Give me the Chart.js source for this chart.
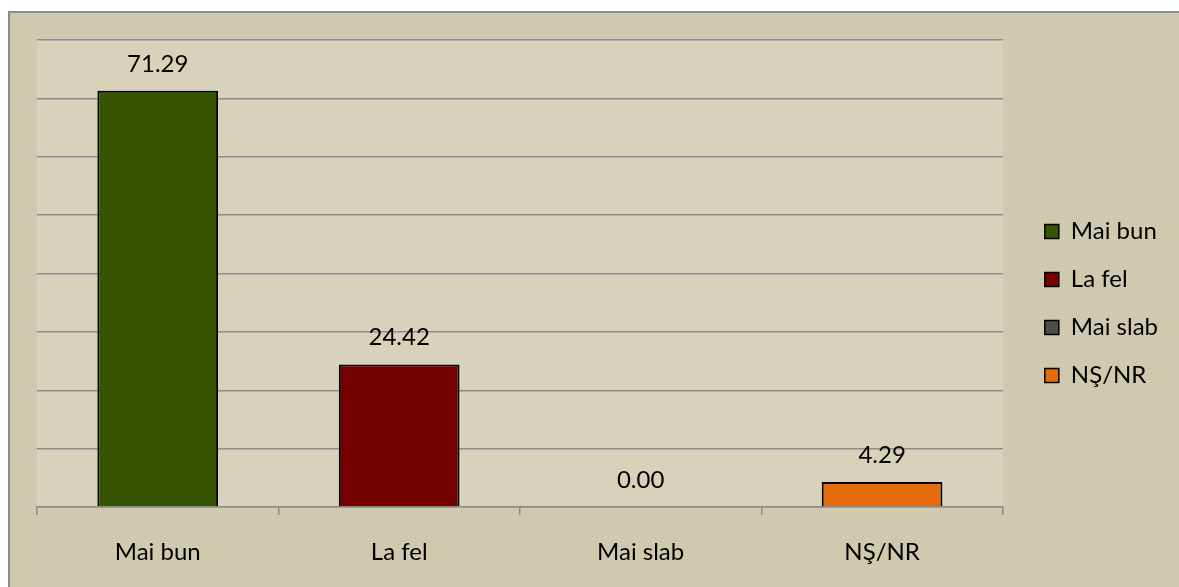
<!DOCTYPE html>
<html>
<head>
<meta charset="utf-8">
<script src="https://cdn.jsdelivr.net/npm/chart.js@4"></script>
<style>
  html, body { margin: 0; padding: 0; background: #ffffff; }
  #wrap {
    position: absolute; left: 8px; top: 11px;
    width: 1169px; height: 574px;
    border-left: 2px solid #8c8c8c; border-top: 2px solid #8c8c8c;
    background: #cfcaad;
  }
</style>
</head>
<body>
<div id="wrap"><canvas id="c" width="1169" height="574"></canvas></div>
<script>
// date grafic
const categorii = ["Mai bun", "La fel", "Mai slab", "NŞ/NR"];
const valori = [71.29, 24.42, 0.00, 4.29];
const culori = ["#375500", "#740000", "#4d4d4d", "#e46c0a"];
const axaY = { min: 0, max: 80, pas: 10 };

const FONT = "Lato, 'DejaVu Sans', sans-serif";

// fundal zona grafic
const fundalZona = {
  id: "fundalZona",
  beforeDraw(chart) {
    const a = chart.chartArea;
    const ctx = chart.ctx;
    ctx.save();
    ctx.fillStyle = "#d7d2b9";
    ctx.fillRect(a.left, a.top, a.right - a.left, a.bottom - a.top);
    ctx.restore();
  }
};

// etichete valori deasupra barelor
const etichete = {
  id: "etichete",
  afterDatasetsDraw(chart) {
    const ctx = chart.ctx;
    const meta = chart.getDatasetMeta(0);
    ctx.save();
    ctx.font = "24px " + FONT;
    ctx.fillStyle = "#000";
    ctx.textAlign = "center";
    ctx.textBaseline = "middle";
    meta.data.forEach((bar, i) => {
      ctx.fillText(valori[i].toFixed(2), bar.x, bar.y - 27);
    });
    ctx.restore();
  }
};

new Chart(document.getElementById("c"), {
  type: "bar",
  data: {
    labels: categorii,
    datasets: [{
      data: valori,
      backgroundColor: culori,
      borderColor: "#000",
      borderWidth: 2,
      barPercentage: 0.5,
      categoryPercentage: 1
    }]
  },
  options: {
    responsive: false,
    animation: false,
    layout: { padding: { left: 27, top: 27, bottom: 20, right: 11 } },
    plugins: {
      tooltip: { enabled: false },
      legend: {
        position: "right",
        onClick: null,
        labels: {
          boxWidth: 14,
          boxHeight: 14,
          padding: 24,
          color: "#000",
          font: { family: FONT, size: 24 },
          generateLabels: () => categorii.map((c, i) => ({
            text: c,
            fillStyle: culori[i],
            strokeStyle: "#000",
            lineWidth: 1.5,
            hidden: false,
            index: i
          }))
        }
      }
    },
    scales: {
      x: {
        grid: {
          offset: true,
          drawOnChartArea: false,
          tickLength: 8,
          color: "#8c8c8c",
          lineWidth: 1.5
        },
        border: { color: "#8c8c8c", width: 1.5 },
        ticks: {
          padding: 23,
          color: "#000",
          font: { family: FONT, size: 24 }
        },
        afterFit: s => { s.height = 60; }
      },
      y: {
        min: axaY.min,
        max: axaY.max,
        ticks: { display: false, stepSize: axaY.pas },
        border: { display: false },
        grid: { drawTicks: false, color: "#8c8c8c", lineWidth: 1.5 },
        afterFit: s => { s.width = 0; }
      },
      gol: {
        type: "linear",
        position: "right",
        ticks: { display: false },
        grid: { display: false },
        border: { display: false },
        afterFit: s => { s.width = 18; }
      }
    }
  },
  plugins: [fundalZona, etichete]
});
</script>
</body>
</html>
